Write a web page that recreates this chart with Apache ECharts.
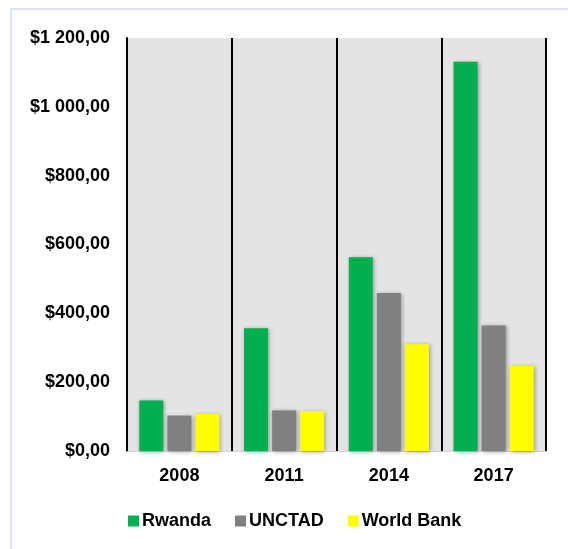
<!DOCTYPE html>
<html>
<head>
<meta charset="utf-8">
<script src="https://cdn.jsdelivr.net/npm/echarts@6/dist/echarts.min.js"></script>
<style>
  html, body { margin: 0; padding: 0; background: #ffffff; }
  #chart { width: 568px; height: 549px; }
</style>
</head>
<body>
<div id="chart"></div>
<script>
// Years on the category axis
const years = ['2008', '2011', '2014', '2017'];

// Values per source (USD)
const rwanda = [147, 357, 563, 1131];
const unctad = [103, 118, 459, 365];
const worldBank = [108, 116, 310, 247];

// Value axis range
const yMin = 0;
const yMax = 1200;
const yStep = 200;

// "$1 200,00" style: space as thousands separator, comma as decimal mark
function money(v) {
  const parts = v.toFixed(2).split('.');
  const intPart = parts[0].replace(/\B(?=(\d{3})+(?!\d))/g, ' ');
  return '$' + intPart + ',' + parts[1];
}

const font = 'Liberation Sans, Arial, sans-serif';
const barShadow = {
  shadowBlur: 4,
  shadowColor: 'rgba(0,0,0,0.35)',
  shadowOffsetX: 1,
  shadowOffsetY: 1
};

function barSeries(name, data, color) {
  return {
    name: name,
    type: 'bar',
    data: data,
    barWidth: 24,
    barGap: '17%',
    itemStyle: Object.assign({ color: color }, barShadow)
  };
}

const chart = echarts.init(document.getElementById('chart'), null, { renderer: 'canvas' });

chart.setOption({
  animation: false,
  backgroundColor: '#ffffff',
  grid: {
    left: 127,
    right: 22,
    top: 38,
    bottom: 98,
    show: true,
    backgroundColor: '#e4e4e4',
    borderWidth: 0
  },
  legend: {
    left: 128,
    top: 512,
    padding: 0,
    itemWidth: 11,
    itemHeight: 11,
    itemGap: 24,
    icon: 'rect',
    textStyle: {
      fontFamily: font,
      fontSize: 18,
      fontWeight: 'bold',
      color: '#000000',
      padding: [0, 0, 0, -2]
    },
    data: ['Rwanda', 'UNCTAD', 'World Bank']
  },
  xAxis: {
    type: 'category',
    data: years,
    boundaryGap: true,
    axisLine: { show: true, lineStyle: { color: '#d4d4d4', width: 1 } },
    axisTick: { show: false },
    axisLabel: {
      margin: 16,
      fontFamily: font,
      fontSize: 18,
      fontWeight: 'bold',
      color: '#000000'
    },
    splitLine: { show: true, lineStyle: { color: '#000000', width: 2 } }
  },
  yAxis: {
    type: 'value',
    min: yMin,
    max: yMax,
    interval: yStep,
    axisLine: { show: true, lineStyle: { color: '#000000', width: 2 } },
    axisTick: { show: false },
    splitLine: { show: false },
    axisLabel: {
      margin: 17,
      fontFamily: font,
      fontSize: 18,
      fontWeight: 'bold',
      color: '#000000',
      formatter: money
    }
  },
  graphic: [
    {
      type: 'line',
      shape: { x1: 10, y1: 9, x2: 568, y2: 9 },
      style: { stroke: '#dfe4eb', lineWidth: 2 }
    },
    {
      type: 'line',
      shape: { x1: 11, y1: 8, x2: 11, y2: 549 },
      style: { stroke: '#dfe4eb', lineWidth: 2 }
    }
  ],
  series: [
    barSeries('Rwanda', rwanda, '#00b050'),
    barSeries('UNCTAD', unctad, '#808080'),
    barSeries('World Bank', worldBank, '#ffff00')
  ]
});
</script>
</body>
</html>
